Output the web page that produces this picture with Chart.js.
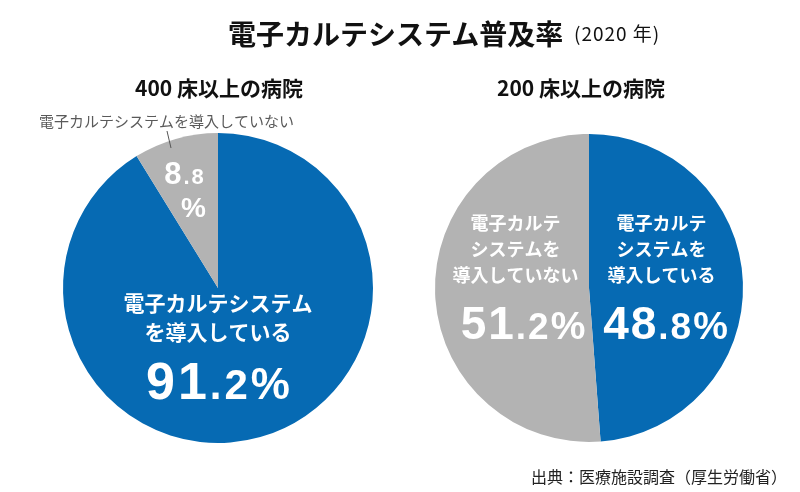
<!DOCTYPE html>
<html><head><meta charset="utf-8">
<script src="https://cdn.jsdelivr.net/npm/chart.js@4/dist/chart.umd.min.js"></script>
<style>
html,body{margin:0;padding:0;background:#fff;}
#wrap{position:relative;width:800px;height:492px;overflow:hidden;font-family:"Noto Sans CJK JP","Noto Sans",sans-serif;color:#111;}
canvas{position:absolute;top:0;}
.t{position:absolute;white-space:nowrap;line-height:1;}
</style></head><body>
<div id="wrap">
<canvas id="c1" width="400" height="492" style="left:0"></canvas>
<canvas id="c2" width="400" height="492" style="left:400px"></canvas>
<div class="t" id="title" style="left:228px;top:19px;font-size:28px;font-weight:700;color:#111;"></div>
<div class="t" id="year" style="left:574px;top:23px;font-size:19px;font-weight:400;letter-spacing:1px;color:#111;"></div>
<div class="t" id="sub1" style="left:219px;top:87px;transform:translate(-50%,-50%);font-size:21px;font-weight:700;color:#111;"></div>
<div class="t" id="sub2" style="left:581px;top:87px;transform:translate(-50%,-50%);font-size:21px;font-weight:700;color:#111;"></div>
<div class="t" id="src" style="right:13px;top:468px;font-size:16px;font-weight:400;color:#222;"></div>
</div>
<script>
// ---- data ----
const categories = ['電子カルテシステムを導入している', '電子カルテシステムを導入していない'];
const leftValues = [91.2, 8.8];
const rightValues = [48.8, 51.2];
const leftInnerText = ['電子カルテシステム', 'を導入している'];
const rightBlueText = ['電子カルテ', 'システムを', '導入している'];
const rightGrayText = ['電子カルテ', 'システムを', '導入していない'];
const outsideLabel = '電子カルテシステムを導入していない';
const panelTitles = ['400 床以上の病院', '200 床以上の病院'];
const chartTitle = '電子カルテシステム普及率';
const titleYear = '(2020 年)';
const sourceText = '出典：医療施設調査（厚生労働省）';

// ---- styles ----
const BLUE = '#066ab3';
const GRAY = '#b3b3b3';
const NUMFONT = '"Liberation Sans", Arial, Helvetica, sans-serif';
const JPFONT = '"Noto Sans CJK JP", "Noto Sans", sans-serif';

document.getElementById('title').textContent = chartTitle;
document.getElementById('year').textContent = titleYear;
document.getElementById('sub1').textContent = panelTitles[0];
document.getElementById('sub2').textContent = panelTitles[1];
document.getElementById('src').textContent = sourceText;

function drawNum(ctx, v, cx, base, big, small, pct, sp, withPct) {
  const s = v.toFixed(1).split('.');
  const parts = [[s[0], big], ['.' + s[1], small]];
  if (withPct) parts.push(['%', pct]);
  ctx.save();
  ctx.letterSpacing = sp + 'px';
  ctx.textAlign = 'left';
  ctx.textBaseline = 'alphabetic';
  ctx.fillStyle = '#fff';
  const widths = [];
  let total = 0;
  parts.forEach(p => {
    ctx.font = 'bold ' + p[1] + 'px ' + NUMFONT;
    const w = ctx.measureText(p[0]).width;
    widths.push(w); total += w;
  });
  total -= sp;
  let x = cx - total / 2;
  parts.forEach((p, i) => {
    ctx.font = 'bold ' + p[1] + 'px ' + NUMFONT;
    ctx.fillText(p[0], x, base);
    x += widths[i];
  });
  ctx.restore();
}

function drawLines(ctx, lines, cx, cy0, gap, size, color) {
  ctx.save();
  ctx.font = 'bold ' + size + 'px ' + JPFONT;
  ctx.fillStyle = color;
  ctx.textAlign = 'center';
  ctx.textBaseline = 'middle';
  lines.forEach((l, i) => ctx.fillText(l, cx, cy0 + i * gap));
  ctx.restore();
}

const leftLabels = {
  id: 'leftLabels',
  afterDraw(chart) {
    const ctx = chart.ctx;
    const arc = chart.getDatasetMeta(0).data[0];
    const cx = arc.x, cy = arc.y;
    drawLines(ctx, leftInnerText, cx, cy + 15, 29, 21, '#fff');
    drawNum(ctx, leftValues[0], cx, cy + 111, 52, 42, 44, 3, true);
    // small slice
    drawNum(ctx, leftValues[1], cx - 34, cy - 104, 31, 22, 28, 2, false);
    ctx.save();
    ctx.font = 'bold 28px ' + NUMFONT;
    ctx.fillStyle = '#fff';
    ctx.textAlign = 'center';
    ctx.textBaseline = 'alphabetic';
    ctx.fillText('%', cx - 24.5, cy - 71);
    ctx.restore();
    // outside label + leader
    ctx.save();
    ctx.font = '15px ' + JPFONT;
    ctx.fillStyle = '#5a5a5a';
    ctx.textAlign = 'center';
    ctx.textBaseline = 'middle';
    ctx.fillText(outsideLabel, cx - 51.5, cy - 167);
    ctx.strokeStyle = '#555';
    ctx.lineWidth = 1;
    ctx.beginPath();
    ctx.moveTo(cx - 51, cy - 157);
    ctx.lineTo(cx - 47, cy - 140);
    ctx.stroke();
    ctx.restore();
  }
};

const rightLabels = {
  id: 'rightLabels',
  afterDraw(chart) {
    const ctx = chart.ctx;
    const arc = chart.getDatasetMeta(0).data[0];
    const cx = arc.x, cy = arc.y;
    drawLines(ctx, rightGrayText, cx - 73.5, cy - 64.5, 25.7, 18, '#fff');
    drawLines(ctx, rightBlueText, cx + 72.5, cy - 64.5, 25.7, 18, '#fff');
    drawNum(ctx, rightValues[1], cx - 66, cy + 51, 46, 37, 39, 2, true);
    drawNum(ctx, rightValues[0], cx + 76.5, cy + 51, 46, 37, 39, 2, true);
  }
};

function makePie(id, values, padding, plugin) {
  return new Chart(document.getElementById(id), {
    type: 'pie',
    data: {
      labels: categories,
      datasets: [{ data: values, backgroundColor: [BLUE, GRAY], borderWidth: 0 }]
    },
    options: {
      responsive: false,
      animation: false,
      layout: { padding: padding },
      plugins: { legend: { display: false }, tooltip: { enabled: false }, title: { display: false } }
    },
    plugins: [plugin]
  });
}

makePie('c1', leftValues, { left: 63, top: 133, right: 27, bottom: 49 }, leftLabels);
makePie('c2', rightValues, { left: 35, top: 134, right: 57, bottom: 50 }, rightLabels);
</script>
</body></html>
